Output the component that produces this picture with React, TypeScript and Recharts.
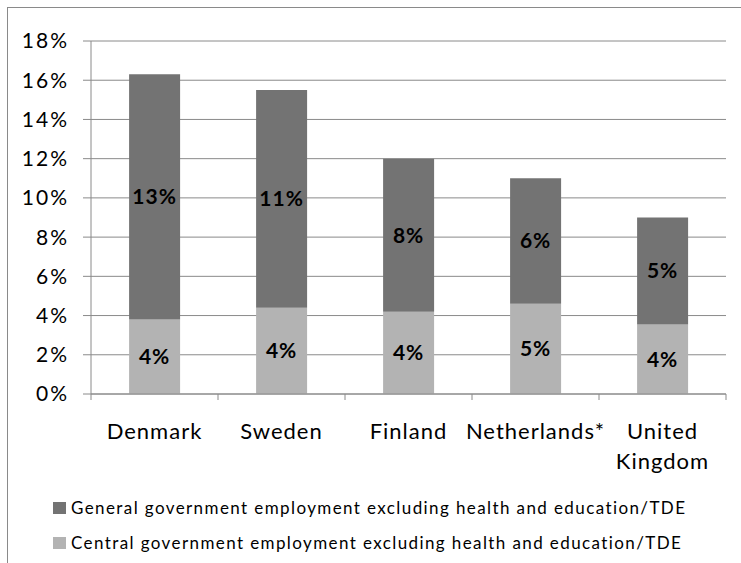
import { Bar, BarChart, CartesianGrid, LabelList, Legend, XAxis, YAxis } from "recharts";

const countries = ["Denmark", "Sweden", "Finland", "Netherlands*", "United Kingdom"];
const centralShare = [3.8, 4.4, 4.2, 4.6, 3.55];
const generalShare = [12.5, 11.1, 7.8, 6.4, 5.45];
const yTicks = [0, 2, 4, 6, 8, 10, 12, 14, 16, 18];

const centralName = "Central government employment excluding health and education/TDE";
const generalName = "General government employment excluding health and education/TDE";
const legendOrder = ["general", "central"];

const data = countries.map((country, i) => ({
  country,
  central: centralShare[i],
  general: generalShare[i],
}));

const FONT = "Lato, 'Open Sans', sans-serif";
const LINE = "#8a8a8a";
const DARK = "#737373";
const LIGHT = "#b3b3b3";

// category label, plus tick marks on the band edges like Excel does
function CountryTick(props: any) {
  const { x, y, payload, index, visibleTicksCount } = props;
  const half = payload?.offset || 63.5;
  const isLast = index === visibleTicksCount - 1;
  const lines = String(payload.value).split(" ");
  return (
    <g>
      <line x1={x - half} x2={x - half} y1={y} y2={y + 6} stroke={LINE} />
      {isLast && <line x1={x + half} x2={x + half} y1={y} y2={y + 6} stroke={LINE} />}
      <text
        x={x}
        y={y + 45}
        textAnchor="middle"
        fontSize={22}
        letterSpacing={1}
        fontFamily={FONT}
        fill="#000"
      >
        {lines.map((word, i) => (
          <tspan key={word} x={x} dy={i === 0 ? 0 : 30}>
            {word}
          </tspan>
        ))}
      </text>
    </g>
  );
}

function LegendBox(props: any) {
  const items = [...(props.payload || [])].sort(
    (a: any, b: any) => legendOrder.indexOf(a.dataKey) - legendOrder.indexOf(b.dataKey)
  );
  return (
    <div style={{ height: 77, paddingTop: 7, boxSizing: "border-box", paddingLeft: 53 }}>
      {items.map((item: any) => (
        <div
          key={item.dataKey}
          style={{ height: 35, display: "flex", alignItems: "center", fontFamily: FONT, fontSize: 17, letterSpacing: 1.4, color: "#000" }}
        >
          <span style={{ display: "inline-block", width: 13, height: 12, background: item.color, marginRight: 5 }} />
          {item.value}
        </div>
      ))}
    </div>
  );
}

const labelStyle = { fill: "#000", fontSize: 21, fontWeight: 700, fontFamily: FONT, letterSpacing: 1 };

export default function App() {
  return (
    <div style={{ position: "absolute", left: 0, top: 0, width: 741, height: 563, background: "#fff" }}>
      <div
        style={{
          position: "absolute",
          left: 7,
          top: 7,
          right: 0,
          bottom: 0,
          borderTop: `1px solid ${LINE}`,
          borderLeft: `1px solid ${LINE}`,
        }}
      />
      <BarChart
        width={741}
        height={563}
        data={data}
        margin={{ top: 41, right: 15, bottom: 3, left: 0 }}
        barCategoryGap="30%"
        style={{ fontFamily: FONT }}
      >
        <CartesianGrid vertical={false} stroke={LINE} />
        <XAxis
          dataKey="country"
          height={89}
          interval={0}
          axisLine={{ stroke: LINE }}
          tickLine={false}
          tickSize={0}
          tickMargin={0}
          tick={<CountryTick />}
        />
        <YAxis
          width={91}
          domain={[0, 18]}
          ticks={yTicks}
          tickFormatter={(v: number) => `${v}%`}
          axisLine={{ stroke: LINE }}
          tickLine={{ stroke: LINE }}
          tickSize={8}
          tickMargin={14}
          tick={{ fill: "#000", fontSize: 21, fontFamily: FONT, letterSpacing: 2 }}
        />
        <Legend verticalAlign="bottom" align="left" content={<LegendBox />} />
        <Bar dataKey="central" name={centralName} stackId="a" fill={LIGHT} isAnimationActive={false}>
          <LabelList
            dataKey="central"
            position="center"
            formatter={(v: any) => `${Math.round(Number(v))}%`}
            style={labelStyle}
          />
        </Bar>
        <Bar dataKey="general" name={generalName} stackId="a" fill={DARK} isAnimationActive={false}>
          <LabelList
            dataKey="general"
            position="center"
            formatter={(v: any) => `${Math.round(Number(v))}%`}
            style={labelStyle}
          />
        </Bar>
      </BarChart>
    </div>
  );
}
